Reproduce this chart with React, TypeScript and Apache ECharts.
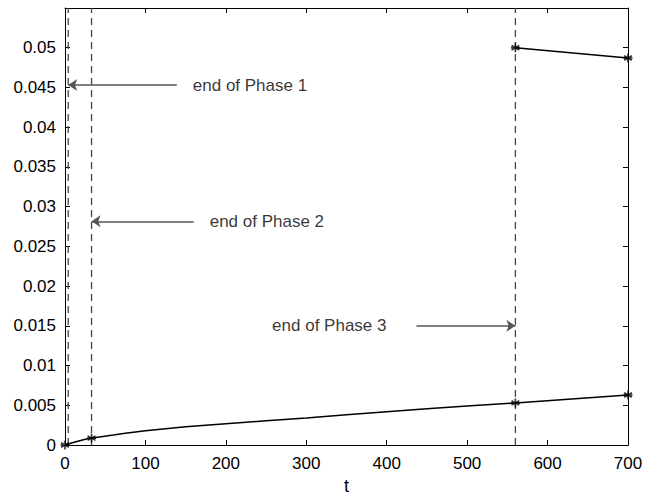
import React, { useEffect, useRef } from "react";
import * as echarts from "echarts";

const curveT = [0, 8, 16, 24, 33, 45, 60, 75, 100, 125, 150, 175, 200, 250, 300, 350, 400, 450, 500, 560, 700];
const curveY = [0, 0.00025, 0.00048, 0.00068, 0.00087, 0.00105, 0.00125, 0.00147, 0.00178, 0.00205, 0.0023, 0.0025, 0.00268, 0.00305, 0.0034, 0.0038, 0.0042, 0.00455, 0.0049, 0.0053, 0.0063];
const upperT = [560, 700];
const upperY = [0.05, 0.0487];
const markerT = [0, 33, 560, 700, 560, 700];
const markerY = [0, 0.00087, 0.0053, 0.0063, 0.05, 0.0487];
const phaseT = [4, 33, 560];
const arrowTailT = [139, 160, 437];
const arrowY = [0.0453, 0.02815, 0.0150];
const phaseLabels = ["end of Phase 1", "end of Phase 2", "end of Phase 3"];
const labelSide = ["right", "right", "left"];
const xTicks = [0, 100, 200, 300, 400, 500, 600, 700];

const FONT = "'Liberation Sans', Arial, Helvetica, sans-serif";
const ASTERISK = "path://M0,-5L0,5M-4.33,-2.5L4.33,2.5M-4.33,2.5L4.33,-2.5M-5,0L5,0";

export default function App() {
  const ref = useRef<HTMLDivElement>(null);
  useEffect(() => {
    if (!ref.current) return;
    const chart = echarts.init(ref.current, undefined, { renderer: "svg" });
    const axisCommon = {
      axisLine: { show: true, onZero: false, lineStyle: { color: "#000", width: 1 } },
      axisTick: { show: true, inside: true, length: 5, lineStyle: { color: "#000" } },
      splitLine: { show: false },
    };
    const series: any[] = [
      {
        type: "line",
        data: curveT.map((t, i) => [t, curveY[i]]),
        showSymbol: false,
        symbol: "none",
        smooth: false,
        lineStyle: { color: "#000", width: 1.5 },
        z: 5,
      },
      {
        type: "line",
        data: upperT.map((t, i) => [t, upperY[i]]),
        symbol: "none",
        lineStyle: { color: "#000", width: 1.5 },
        z: 5,
      },
      ...phaseT.map((t) => ({
        type: "line",
        data: [
          [t, 0],
          [t, 0.055],
        ],
        symbol: "none",
        lineStyle: { color: "#444", width: 1.3, type: [7, 5] },
        z: 3,
      })),
      {
        type: "scatter",
        data: markerT.map((t, i) => [t, markerY[i]]),
        symbol: ASTERISK,
        symbolSize: 9,
        clip: false,
        itemStyle: { color: "none", borderColor: "#000", borderWidth: 1.6 },
        z: 6,
      },
      {
        type: "line",
        data: [],
        symbol: "none",
        markLine: {
          silent: true,
          symbol: ["none", "arrow"],
          symbolSize: 9,
          lineStyle: { color: "#555", width: 1.5, type: "solid" },
          label: { show: false },
          data: phaseT.map((t, i) => [
            { coord: [arrowTailT[i], arrowY[i]] },
            { coord: [t, arrowY[i]], itemStyle: { color: "#111" } },
          ]),
        },
      },
      {
        type: "scatter",
        symbolSize: 0,
        data: phaseLabels.map((s, i) => ({
          value: [arrowTailT[i], arrowY[i]],
          label: {
            show: true,
            formatter: s,
            position: labelSide[i],
            distance: labelSide[i] === "left" ? 30 : 16,
            color: "#000",
            fontFamily: FONT,
            fontSize: 17,
          },
        })),
      },
    ];
    chart.setOption({
      animation: false,
      backgroundColor: "#fff",
      grid: { left: 65, right: 29, top: 8, bottom: 48, containLabel: false },
      xAxis: [
        {
          type: "value",
          min: 0,
          max: 700,
          interval: 100,
          position: "bottom",
          name: "t",
          nameLocation: "middle",
          nameGap: 32,
          nameTextStyle: { color: "#000", fontFamily: FONT, fontSize: 18 },
          axisLabel: {
            color: "#000",
            fontFamily: FONT,
            fontSize: 17,
            margin: 10,
            formatter: (v: number) => (xTicks.includes(v) ? String(v) : ""),
          },
          ...axisCommon,
        },
        {
          type: "value",
          min: 0,
          max: 700,
          interval: 100,
          position: "top",
          axisLabel: { show: false },
          ...axisCommon,
        },
      ],
      yAxis: [
        {
          type: "value",
          min: 0,
          max: 0.055,
          interval: 0.005,
          position: "left",
          axisLabel: {
            color: "#000",
            fontFamily: FONT,
            fontSize: 17,
            margin: 9,
            formatter: (v: number) => (v > 0.0505 ? "" : String(+v.toFixed(3))),
          },
          ...axisCommon,
        },
        {
          type: "value",
          min: 0,
          max: 0.055,
          interval: 0.005,
          position: "right",
          axisLabel: { show: false },
          ...axisCommon,
        },
      ],
      series,
    });
    return () => chart.dispose();
  }, []);
  return <div ref={ref} style={{ width: 657, height: 500, position: "absolute", left: 0, top: 0 }} />;
}
